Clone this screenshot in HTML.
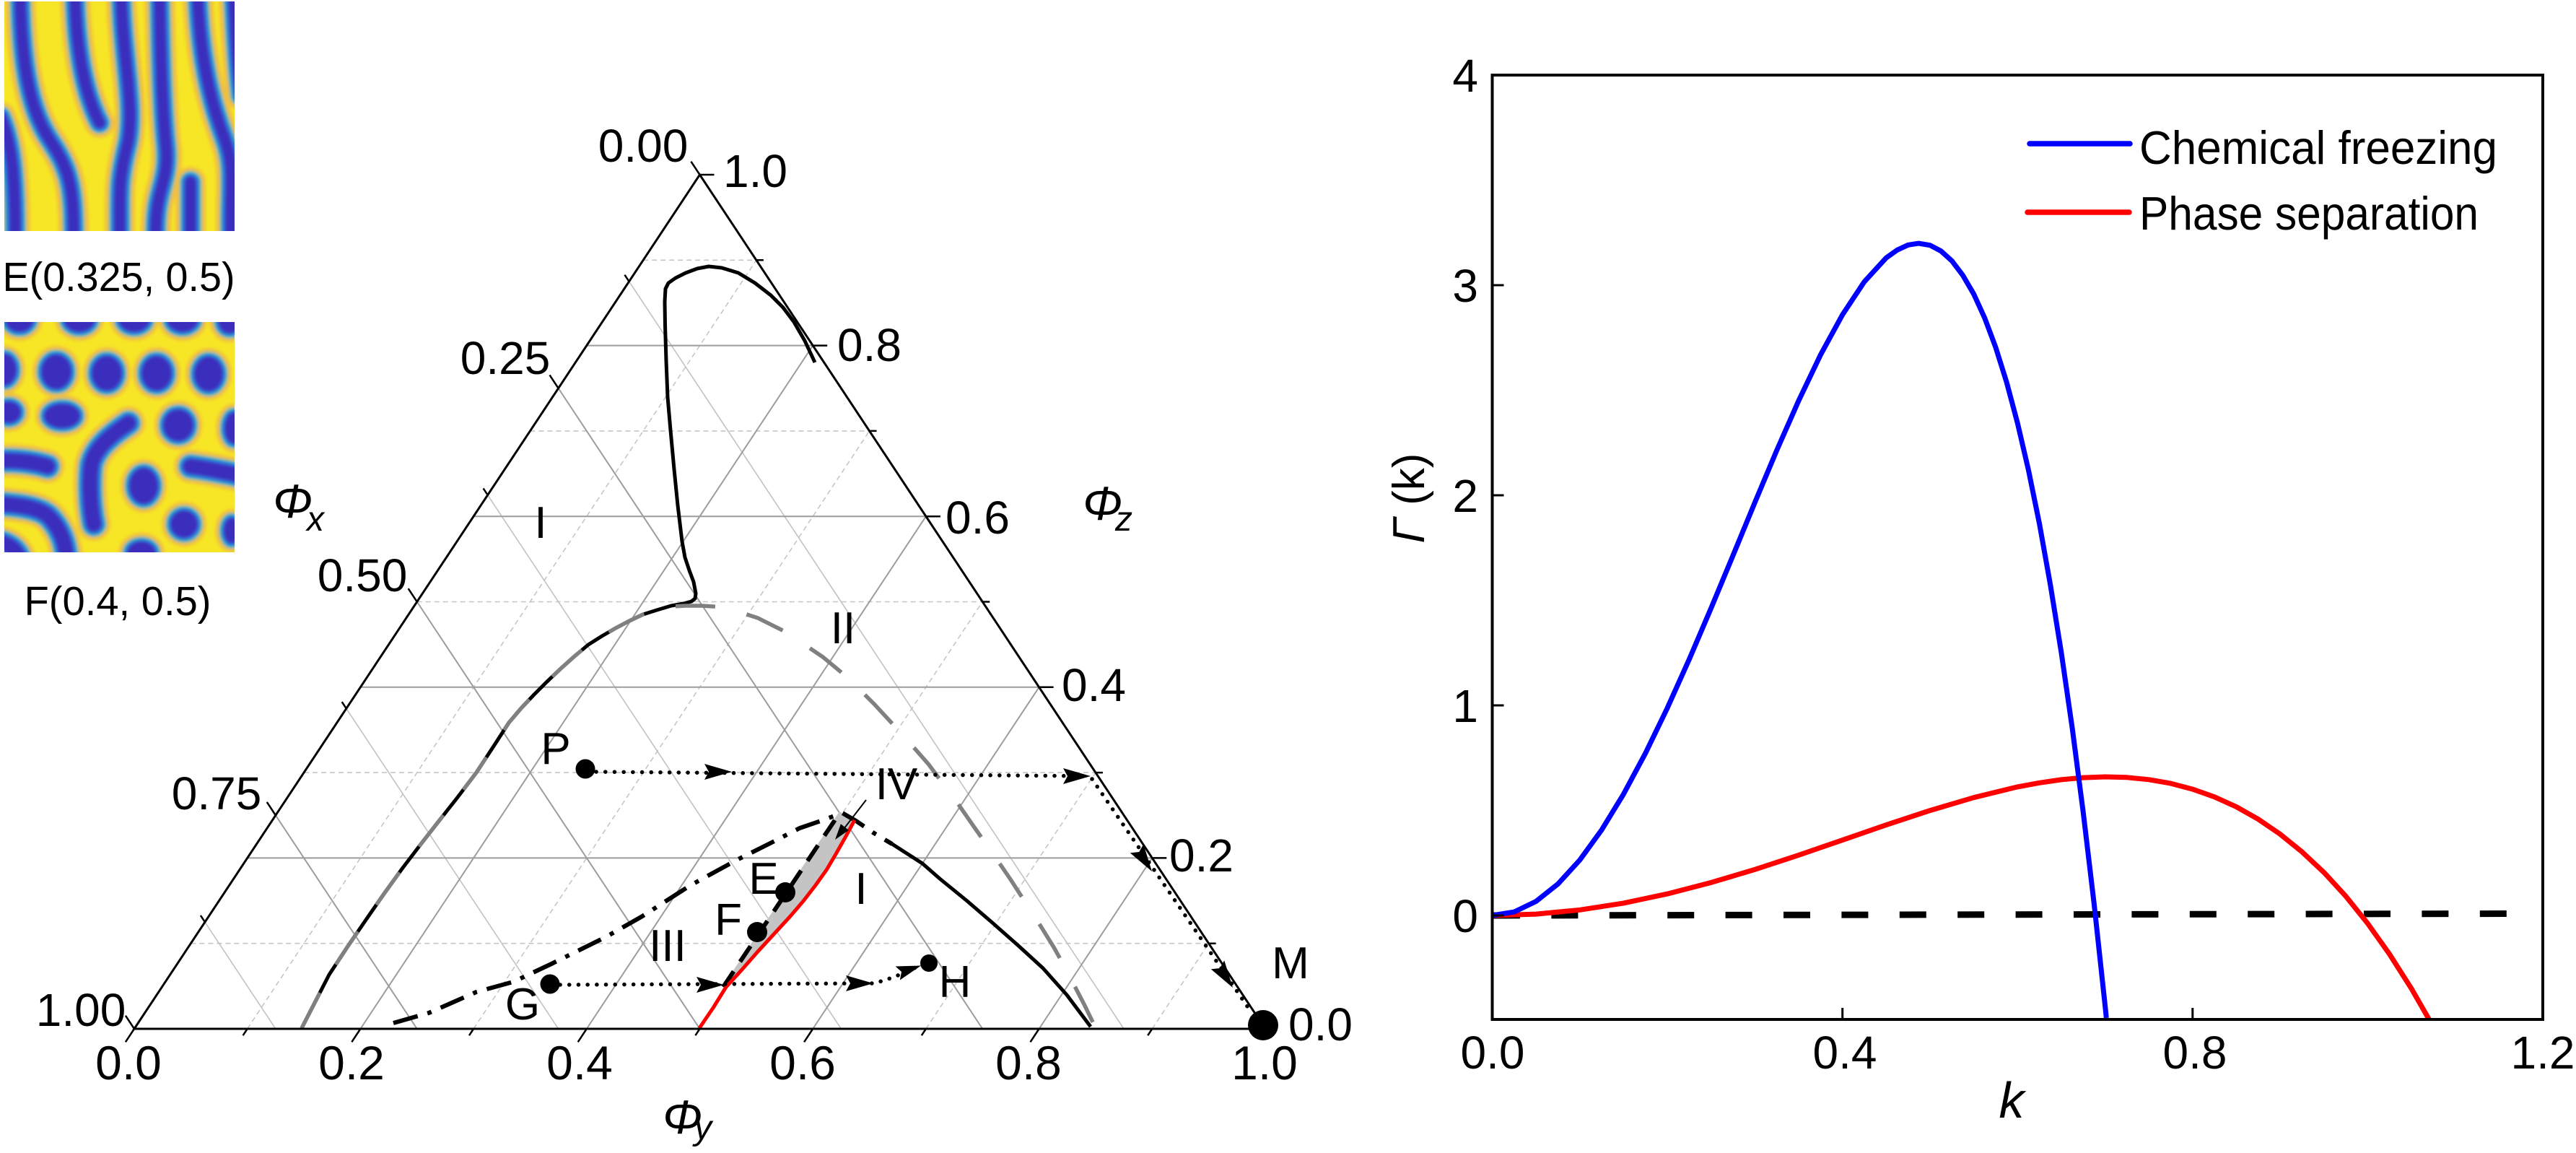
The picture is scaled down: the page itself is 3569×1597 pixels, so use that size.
<!DOCTYPE html>
<html><head><meta charset="utf-8">
<style>
html,body{margin:0;padding:0;background:#fff;}
svg{display:block;}
text{font-family:"Liberation Sans",sans-serif;fill:#000;}
</style></head><body>
<svg width="3569" height="1597" viewBox="0 0 3569 1597" xmlns="http://www.w3.org/2000/svg" xmlns:xlink="http://www.w3.org/1999/xlink">
<rect width="3569" height="1597" fill="#fff"/>
<defs>
<clipPath id="cE"><rect x="6" y="2" width="319" height="318"/></clipPath>
<clipPath id="cF"><rect x="6" y="446" width="319" height="319"/></clipPath>
<filter id="bl" x="-10%" y="-10%" width="120%" height="120%"><feGaussianBlur stdDeviation="2.2"/></filter>
<g id="Ep">
<path d="M22,-5 C24,90 36,150 62,190 S96,250 96,325"/>
<path d="M-5,160 C10,195 15,240 15,325"/>
<path d="M98,-5 C100,70 112,130 132,168"/>
<path d="M162,-5 C164,80 182,150 170,200 S160,260 160,325"/>
<path d="M215,-5 C217,90 219,150 224,200 S208,260 210,325"/>
<path d="M268,-5 C272,90 290,150 305,190 S312,260 314,325"/>
<path d="M258,325 C258,290 258,268 258,250"/>
<path d="M318,-5 C321,60 324,100 328,130"/>
</g>
<g id="Fd">
<ellipse cx="21" cy="-4" rx="20" ry="18"/>
<ellipse cx="104" cy="-4" rx="22" ry="18"/>
<ellipse cx="180" cy="-4" rx="22" ry="18"/>
<ellipse cx="247" cy="-4" rx="22" ry="18"/>
<ellipse cx="312" cy="-2" rx="16" ry="18"/>
<ellipse cx="0" cy="66" rx="17" ry="22"/>
<ellipse cx="72" cy="69" rx="21" ry="24"/>
<ellipse cx="142" cy="71" rx="21" ry="24"/>
<ellipse cx="211" cy="71" rx="21" ry="24"/>
<ellipse cx="283" cy="72" rx="20" ry="24"/>
<ellipse cx="6" cy="125" rx="17" ry="15"/>
<ellipse cx="80" cy="130" rx="25" ry="17"/>
<ellipse cx="241" cy="143" rx="21" ry="22"/>
<ellipse cx="318" cy="147" rx="13" ry="22"/>
<ellipse cx="193" cy="227" rx="20" ry="25"/>
<ellipse cx="249" cy="280" rx="19" ry="19"/>
<ellipse cx="190" cy="320" rx="20" ry="16"/>
<ellipse cx="315" cy="289" rx="11" ry="18"/>
</g>
<g id="Fw">
<path d="M172,140 C150,155 124,175 120,200 C117,230 120,262 124,280"/>
<path d="M-5,192 C20,191 45,195 60,200"/>
<path d="M-5,252 C25,254 52,258 64,272 C78,288 84,305 86,325"/>
<path d="M-5,305 C8,309 16,316 20,325"/>
<path d="M258,200 C282,203 305,208 325,212"/>
</g>
</defs>

<!-- Pattern image E -->
<g clip-path="url(#cE)">
<rect x="6" y="2" width="319" height="318" fill="#f7e625"/>
<g transform="translate(6,2)" filter="url(#bl)" fill="none" stroke-linecap="round">
<use xlink:href="#Ep" stroke="#efc040" stroke-width="42"/>
<use xlink:href="#Ep" stroke="#22b2c2" stroke-width="30"/>
<use xlink:href="#Ep" stroke="#2f70de" stroke-width="23"/>
<use xlink:href="#Ep" stroke="#3b2dbd" stroke-width="16"/>
</g>
</g>
<text x="164.5" y="403" font-size="57" text-anchor="middle" textLength="322" lengthAdjust="spacingAndGlyphs">E(0.325, 0.5)</text>

<!-- Pattern image F -->
<g clip-path="url(#cF)">
<rect x="6" y="446" width="319" height="319" fill="#f7e625"/>
<g transform="translate(6,446)" filter="url(#bl)" stroke-linecap="round">
<use xlink:href="#Fd" fill="#efc040" stroke="#efc040" stroke-width="24"/>
<use xlink:href="#Fw" fill="none" stroke="#efc040" stroke-width="46"/>
<use xlink:href="#Fd" fill="#22b2c2" stroke="#22b2c2" stroke-width="13"/>
<use xlink:href="#Fw" fill="none" stroke="#22b2c2" stroke-width="35"/>
<use xlink:href="#Fd" fill="#2f70de" stroke="#2f70de" stroke-width="6"/>
<use xlink:href="#Fw" fill="none" stroke="#2f70de" stroke-width="28"/>
<use xlink:href="#Fd" fill="#3b2dbd" stroke="none"/>
<use xlink:href="#Fw" fill="none" stroke="#3b2dbd" stroke-width="21"/>
</g>
</g>
<text x="163" y="852" font-size="57" text-anchor="middle" textLength="259" lengthAdjust="spacingAndGlyphs">F(0.4, 0.5)</text>

<!-- ===== Ternary grid ===== -->
<g fill="none" stroke="#c6c6c6" stroke-width="1.6" stroke-dasharray="7 5">
<path d="M264.35,1306.7 H1674.65 M421.05,1070.1 H1517.95 M577.75,833.5 H1361.25 M734.45,596.9 H1204.55 M891.15,360.3 H1047.85"/>
<path d="M342.7,1425 L1047.85,360.3 M656.1,1425 L1204.55,596.9 M969.5,1425 L1361.25,833.5 M1282.9,1425 L1517.95,1070.1 M1596.3,1425 L1674.65,1306.7"/>
</g>
<g fill="none" stroke="#c2c2c2" stroke-width="1.6">
<path d="M871.56,389.88 L1557.06,1425 M675.69,685.63 L1165.38,1425 M479.81,981.38 L773.63,1425 M283.94,1277.13 L381.88,1425"/>
</g>
<g fill="none" stroke="#9c9c9c" stroke-width="2">
<path d="M342.7,1188.4 H1596.3 M499.4,951.8 H1439.6 M656.1,715.2 H1282.9 M812.8,478.6 H1126.2"/>
<path d="M499.4,1425 L1126.2,478.6 M812.8,1425 L1282.9,715.2 M1126.2,1425 L1439.6,951.8 M1439.6,1425 L1596.3,1188.4"/>
<path d="M773.6,537.75 L1361.25,1425 M577.75,833.5 L969.5,1425 M381.88,1129.25 L577.75,1425"/>
</g>

<!-- gray shaded region -->
<polygon points="1004,1362 1163,1124 1184,1136 1171,1160 1158,1183 1145,1205 1130,1226 1113,1248 1095,1269 1072,1294 1049,1319 1028,1343 1010,1362" fill="#c4c4c4"/>

<!-- black binodal (left) + finger -->
<path fill="none" stroke="#000" stroke-width="5" stroke-linejoin="round" d="M418,1424 L437,1387 L456,1350 L481,1312 L507,1274 L532,1238 L558,1202 L584,1168 L609,1136 L635,1103 L660,1070 L683,1035 L705,1001 L722,981 L740,962 L758,944 L777,926 L796,909 L815,893 L834,881 L853,870 L872,860 L891,851 L910,845 L930,839 L947,836 L958,833 L963,829 L964,822 L961,806 L955,790 L949,772 L945,750 L939,700 L934,650 L929,596 L925,550 L923,500 L921.5,450 L921,418 L922,400 L926,392 L936,385 L950,378 L966,372 L982,369 L1000,371 L1023,378 L1046,392 L1068,409 L1085,426 L1100,446 L1115,472 L1129,502"/>
<!-- gray dashed spinodal -->
<path fill="none" stroke="#808080" stroke-width="5.5" stroke-dasharray="55 45" d="M418,1424 L437,1387 L456,1350 L481,1312 L507,1274 L532,1238 L558,1202 L584,1168 L609,1136 L635,1103 L660,1070 L683,1035 L705,1001 L722,981 L740,962 L758,944 L777,926 L796,909 L815,893 L834,881 L853,870 L872,860 L891,851 L910,845 L930,840 L950,839 L972,839 L1004,841 L1050,856 L1090,876 L1140,910 L1175,939 L1211,975 L1249,1016 L1286,1058 L1325,1110 L1350,1146 L1376,1183 L1400,1218 L1422,1252 L1442,1283 L1460,1312 L1475,1339 L1488,1364 L1503,1393 L1517,1422"/>
<!-- dash-dot curve -->
<path fill="none" stroke="#000" stroke-width="6" stroke-dasharray="35 14 6 14" stroke-linejoin="round" d="M545,1417 L594,1403 L660,1374 L711,1360 L762,1336 L839,1298 L890,1269 L957,1226 L1021,1191 L1071,1166 L1108,1147 L1140,1136 L1167,1126 L1186,1137 L1211,1154 L1236,1169"/>
<!-- right solid curve -->
<path fill="none" stroke="#000" stroke-width="5" stroke-linejoin="round" d="M1236,1169 L1278,1196 L1302,1217 L1340,1248 L1376,1279 L1410,1309 L1445,1341 L1478,1378 L1511,1422"/>
<!-- dashed boundary along phi_y=0.5 -->
<path fill="none" stroke="#000" stroke-width="6" stroke-dasharray="26 16" d="M1002,1367 L1162,1128"/>
<!-- red curve -->
<path fill="none" stroke="#ff0000" stroke-width="5" stroke-linejoin="round" d="M969,1424 L988,1396 L1006,1367 L1028,1343 L1049,1319 L1072,1294 L1095,1269 L1113,1248 L1130,1226 L1145,1205 L1158,1183 L1171,1160 L1184,1136"/>

<!-- dotted trajectories -->
<g fill="none" stroke="#000" stroke-width="5.5" stroke-linecap="round" stroke-dasharray="0.1 12.6">
<path d="M826,1069 L1511,1075"/>
<path d="M1513,1079 L1735,1404"/>
<path d="M776,1364 L1210,1362 Q1235,1356 1262,1343 L1276,1337"/>
</g>
<!-- arrowheads -->
<g fill="#000">
<polygon points="1014,1069 976,1058 982,1069 976,1080"/>
<polygon points="1511,1075 1473,1064 1479,1075 1473,1086"/>
<polygon points="1596,1207 1584.2,1169.2 1578.3,1180 1565.8,1181.4"/>
<polygon points="1708,1368 1696.2,1330.2 1690.3,1341 1677.8,1342.4"/>
<polygon points="1003,1364 965,1353 971,1364 965,1375"/>
<polygon points="1210,1362 1172,1351 1178,1362 1172,1373"/>
<polygon points="1276,1337.5 1246.8,1357.5 1249,1346 1240.6,1338.5"/>
</g>
<!-- thin arrow to IV -->
<path d="M1200,1108 L1166,1152" stroke="#000" stroke-width="2" fill="none"/>
<polygon points="1157,1163 1175.9,1149.9 1164.9,1141.3" fill="#000"/>

<!-- points -->
<g fill="#000">
<circle cx="811" cy="1065" r="13.5"/>
<circle cx="1088" cy="1236" r="14"/>
<circle cx="1049" cy="1291" r="14"/>
<circle cx="762" cy="1363" r="13.5"/>
<circle cx="1287" cy="1334" r="12"/>
</g>

<!-- triangle axes -->
<path d="M186,1425 L969.5,242 L1753,1425 Z" fill="none" stroke="#000" stroke-width="3" stroke-linejoin="miter"/>
<path fill="none" stroke="#000" stroke-width="2.5" d="
M186,1425 l-12.1,18.3 M342.7,1425 l-6.1,9.2 M499.4,1425 l-12.1,18.3 M656.1,1425 l-6.1,9.2 M812.8,1425 l-12.1,18.3 M969.5,1425 l-6.1,9.2 M1126.2,1425 l-12.1,18.3 M1282.9,1425 l-6.1,9.2 M1439.6,1425 l-12.1,18.3 M1596.3,1425 l-6.1,9.2
M1674.65,1306.7 h10 M1596.3,1188.4 h20 M1517.95,1070.1 h10 M1439.6,951.8 h20 M1361.25,833.5 h10 M1282.9,715.2 h20 M1204.55,596.9 h10 M1126.2,478.6 h20 M1047.85,360.3 h10 M969.5,242 h20
M969.5,242 l-12.1,-18.3 M871.56,389.88 l-6.1,-9.2 M773.6,537.75 l-12.1,-18.3 M675.69,685.63 l-6.1,-9.2 M577.75,833.5 l-12.1,-18.3 M479.81,981.38 l-6.1,-9.2 M381.88,1129.25 l-12.1,-18.3 M283.94,1277.13 l-6.1,-9.2 M186,1425 l-12.1,-18.3"/>
<circle cx="1750" cy="1420" r="21" fill="#000"/>

<!-- ternary tick labels -->
<g font-size="64" text-anchor="middle">
<text x="891" y="224">0.00</text>
<text x="700" y="518">0.25</text>
<text x="502" y="819">0.50</text>
<text x="300" y="1121">0.75</text>
<text x="112" y="1421">1.00</text>
</g>
<g font-size="64">
<text x="1002" y="259">1.0</text>
<text x="1160" y="500">0.8</text>
<text x="1310" y="739">0.6</text>
<text x="1471" y="971">0.4</text>
<text x="1620" y="1207">0.2</text>
<text x="1785" y="1441">0.0</text>
</g>
<g font-size="66" text-anchor="middle">
<text x="178" y="1495">0.0</text>
<text x="487" y="1495">0.2</text>
<text x="803" y="1495">0.4</text>
<text x="1112" y="1495">0.6</text>
<text x="1425" y="1495">0.8</text>
<text x="1752" y="1495">1.0</text>
</g>
<!-- axis titles -->
<text x="378" y="717" font-size="66" font-style="italic">Φ</text>
<text x="425" y="735" font-size="48" font-style="italic">x</text>
<text x="1500" y="720" font-size="66" font-style="italic">Φ</text>
<text x="1545" y="735" font-size="48" font-style="italic">z</text>
<text x="918" y="1570" font-size="66" font-style="italic">Φ</text>
<text x="962" y="1578" font-size="48" font-style="italic">y</text>
<!-- region & point labels -->
<g font-size="62" text-anchor="middle">
<text x="749" y="745">I</text>
<text x="1168" y="891">II</text>
<text x="925" y="1331">III</text>
<text x="1242" y="1107">IV</text>
<text x="1193" y="1252">I</text>
<text x="770" y="1058">P</text>
<text x="1058" y="1238">E</text>
<text x="1009" y="1295">F</text>
<text x="724" y="1412">G</text>
<text x="1323" y="1381">H</text>
<text x="1788" y="1355">M</text>
</g>

<!-- ===== Right plot ===== -->
<path fill="none" stroke="#000" stroke-width="9" stroke-dasharray="37 43.4" d="M2069,1268 L3474,1265.5"/>
<path fill="none" stroke="#ff0000" stroke-width="7" stroke-linejoin="round" d="M2067.5,1268 L2128.1,1266.1 L2188.8,1260.3 L2249.4,1250.9 L2310.1,1238.1 L2370.7,1222.4 L2431.4,1204.3 L2492.0,1184.4 L2552.7,1163.6 L2613.3,1142.6 L2674.0,1122.6 L2734.6,1104.7 L2795.2,1089.9 L2825.6,1084.3 L2855.9,1079.9 L2886.2,1077.1 L2916.5,1076.0 L2946.9,1076.8 L2977.2,1079.8 L3007.5,1085.1 L3037.8,1093.1 L3068.1,1103.8 L3098.5,1117.6 L3128.8,1134.7 L3159.1,1155.4 L3189.4,1179.9 L3219.8,1208.4 L3250.1,1241.4 L3280.4,1279.1 L3310.7,1321.7 L3341.1,1369.5 L3365.3,1411.7"/>
<path fill="none" stroke="#0000ff" stroke-width="7" stroke-linejoin="round" d="M2067.5,1268 L2097.8,1263.1 L2128.1,1248.5 L2158.5,1224.4 L2188.8,1191.2 L2219.1,1149.4 L2249.4,1099.9 L2279.8,1043.2 L2310.1,980.6 L2340.4,913.2 L2370.7,842.2 L2401.1,769.2 L2431.4,695.8 L2461.7,623.7 L2492.0,555.0 L2522.3,491.6 L2552.7,435.9 L2583.0,390.2 L2613.3,357.1 L2628.5,346.3 L2643.6,339.3 L2658.2,337.1 L2674.0,339.7 L2689.1,347.6 L2704.3,361.3 L2719.5,381.4 L2734.6,407.3 L2749.8,440.6 L2764.9,480.9 L2780.1,529.3 L2795.2,585.8 L2810.4,651.0 L2825.6,725.5 L2840.7,809.8 L2855.9,903.8 L2871.1,1008.7 L2886.2,1124.7 L2901.4,1252.4 L2916.5,1392.3 L2918.3,1410"/>
<rect x="2067.5" y="104" width="1455.5" height="1308" fill="none" stroke="#000" stroke-width="4"/>
<path fill="none" stroke="#000" stroke-width="3" d="M2067.5,395 h16 M2067.5,686 h16 M2067.5,977 h16 M2067.5,1268 h16 M2552.7,1412 v-16 M3037.8,1412 v-16"/>
<g font-size="64" text-anchor="end">
<text x="2048" y="127">4</text>
<text x="2048" y="418">3</text>
<text x="2048" y="709">2</text>
<text x="2048" y="1000">1</text>
<text x="2048" y="1291">0</text>
</g>
<g font-size="64" text-anchor="middle">
<text x="2068" y="1480">0.0</text>
<text x="2556" y="1480">0.4</text>
<text x="3041" y="1480">0.8</text>
<text x="3523" y="1480">1.2</text>
</g>
<text x="2787" y="1548" font-size="70" font-style="italic" text-anchor="middle">k</text>
<text transform="translate(1973,690) rotate(-90)" font-size="62" text-anchor="middle"><tspan font-style="italic">Γ</tspan> (k)</text>
<!-- legend -->
<path d="M2812,199 H2951" stroke="#0000ff" stroke-width="7.5" stroke-linecap="round"/>
<path d="M2809,294 H2950" stroke="#ff0000" stroke-width="7.5" stroke-linecap="round"/>
<text x="2964" y="227" font-size="65" textLength="496" lengthAdjust="spacingAndGlyphs">Chemical freezing</text>
<text x="2964" y="318" font-size="65" textLength="470" lengthAdjust="spacingAndGlyphs">Phase separation</text>
</svg>
</body></html>
